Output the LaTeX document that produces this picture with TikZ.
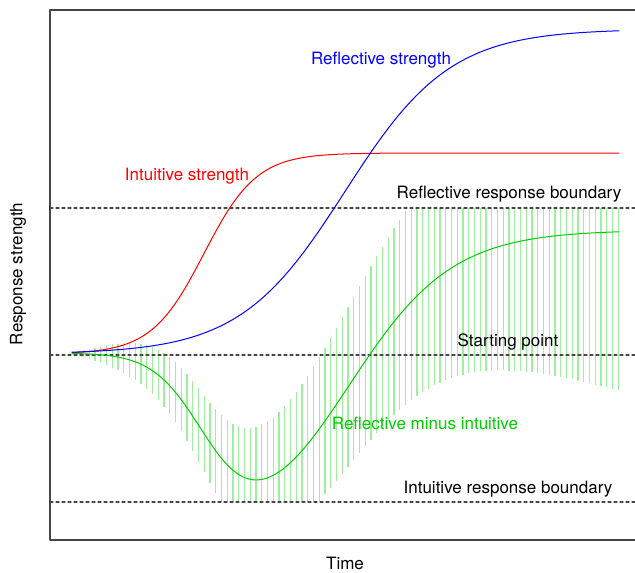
\documentclass[tikz,border=0pt]{standalone}
\usepackage{fontspec}
\setmainfont{TeX Gyre Heros}

\definecolor{axisgray}{RGB}{70,70,70}
\definecolor{bargreen}{RGB}{160,238,160}
\definecolor{diffgreen}{RGB}{0,205,0}

\tikzset{
  declare function={intu(\x)=201/(1+exp(-0.038*(\x-204)));
                    refl(\x)=325/(1+exp(-0.019*(\x-345)));},
  boundary/.style={axisgray, line width=1.1pt, dash pattern=on 3pt off 3pt},
  spreadbar/.style={bargreen, line width=1.4pt, line cap=butt},
  label/.style={inner sep=0pt},
}

\begin{document}
\begin{tikzpicture}[x=1pt, y=-1pt, line join=round, line cap=round, font=\fontsize{17}{20}\selectfont]
	\def\xmin{72} \def\xmax{619}
	\def\yupper{208} \def\ystart{355} \def\ylower{502}
	
	\useasboundingbox (0,0) rectangle (635,573);
	\begin{scope}
		\clip (0,0) rectangle (635,573);
		
		% spread of the difference
		\foreach \i in {1,...,95}{
			\pgfmathsetmacro\bx{\xmin+5.75*\i}
			\pgfmathsetmacro\gy{354-refl(\bx)+intu(\bx)}
			\pgfmathsetmacro\hw{0.29*(\bx-\xmin)}
			\pgfmathsetmacro\btop{max(\yupper,\gy-\hw)}
			\pgfmathsetmacro\bbot{min(\ylower,\gy+\hw)}
			\draw[spreadbar] (\bx,\btop) -- (\bx,\bbot);
		}
		
		\draw[boundary] (50,\yupper) -- (640,\yupper);
		\draw[boundary] (50,\ystart) -- (640,\ystart);
		\draw[boundary] (50,\ylower) -- (640,\ylower);
		
		\draw[red, line width=1pt] plot[smooth, domain=\xmin:\xmax, samples=110] (\x,{354-intu(\x)});
		\draw[blue, line width=1pt] plot[smooth, domain=\xmin:\xmax, samples=110] (\x,{354-refl(\x)});
		\draw[diffgreen, line width=1pt] plot[smooth, domain=\xmin:\xmax, samples=110] (\x,{354-refl(\x)+intu(\x)});
		
		\draw[axisgray, line width=1.3pt, line cap=butt] (645,10) -- (50,10) -- (50,540) -- (645,540);
	\end{scope}
	
	\node[label, blue] (reflstr) at (381,60) {Reflective strength};
	\node[label, red] (intustr) at (187,176) {Intuitive strength};
	\node[label] (reflbound) at (509,194) {Reflective response boundary};
	\node[label] (start) at (508,342) {Starting point};
	\node[label, diffgreen] (diff) at (425,423) {Reflective minus intuitive};
	\node[label] (intubound) at (508,489) {Intuitive response boundary};
	\node[label] (time) at (345,563) {Time};
	\node[label, rotate=90] (resp) at (18,274) {Response strength};
\end{tikzpicture}
\end{document}
